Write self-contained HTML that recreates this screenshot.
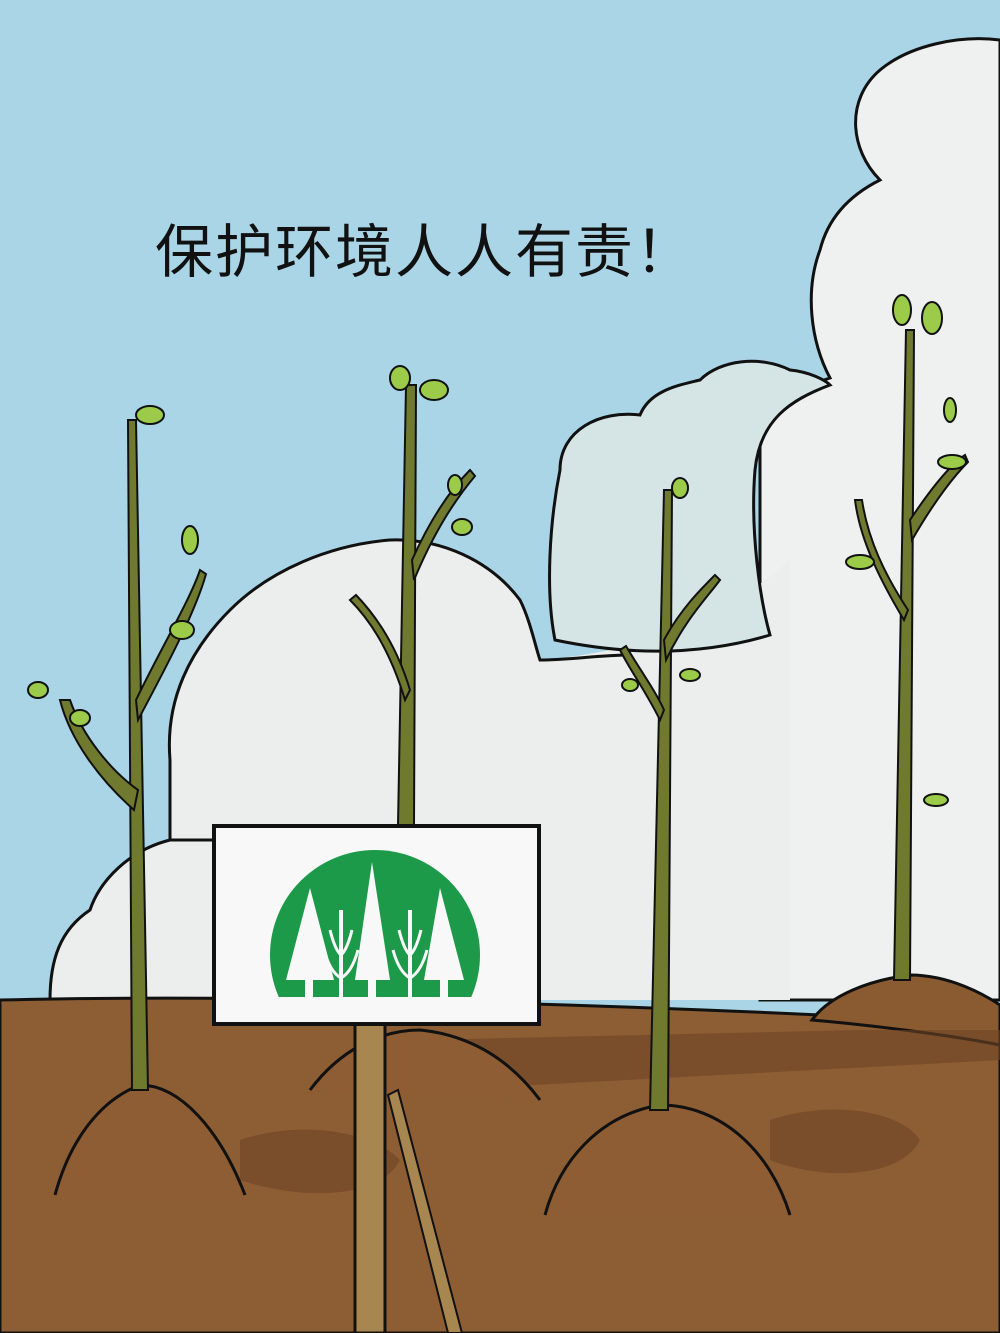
<!DOCTYPE html>
<html><head><meta charset="utf-8"><style>
html,body{margin:0;padding:0;width:1000px;height:1333px;overflow:hidden}
svg{display:block}
</style></head><body>
<svg width="1000" height="1333" viewBox="0 0 1000 1333">
<rect x="0" y="0" width="1000" height="1333" fill="#a9d5e6"/>
<path d="M760,1000 L760,400 C790,390 810,385 830,378 C810,340 805,290 820,250 C830,210 860,190 880,180 C850,150 845,100 880,70 C910,45 960,35 1000,40 L1000,1000 Z" fill="#eef1f0" stroke="#111" stroke-width="3"/>
<path d="M170,1000 L170,760 C165,700 190,650 230,610 C270,570 330,545 390,540 C440,538 490,560 520,600 C530,620 535,645 540,660 C600,655 700,640 790,560 L790,1000 Z" fill="#eceeed"/>
<path d="M555,640 C545,590 550,520 560,470 C560,430 600,410 640,415 C650,390 680,385 700,380 C720,360 760,355 790,370 C810,372 825,380 830,385 C790,400 760,420 755,470 C750,530 760,600 770,635 C720,650 650,660 555,640 Z" fill="#d5e4e5" stroke="#111" stroke-width="3"/>
<path d="M170,1000 L170,760 C165,700 190,650 230,610 C270,570 330,545 390,540 C440,538 490,560 520,600 C530,620 535,645 540,660 C570,660 600,655 630,655" fill="none" stroke="#111" stroke-width="3"/>
<path d="M50,1000 C50,960 60,930 90,910 C100,880 130,850 170,840 L220,840 L220,1000 Z" fill="#eceeed" stroke="#111" stroke-width="3"/>
<path d="M0,1000 C200,995 500,1000 820,1015 C900,1020 960,1035 1000,1040 L1000,1333 L0,1333 Z" fill="#8d5d33" stroke="#111" stroke-width="3"/>
<path d="M812,1020 C830,995 870,980 910,975 C950,975 985,995 1000,1005 L1000,1045 C950,1035 870,1025 812,1020 Z" fill="#8a5a30" stroke="#111" stroke-width="3"/>
<g fill="#6e4526" opacity="0.6">
<path d="M420,1040 L860,1030 L1000,1030 L1000,1060 L440,1090 Z"/>
<path d="M240,1140 C300,1120 370,1130 400,1160 C380,1200 300,1200 240,1180 Z"/>
<path d="M770,1120 C830,1100 900,1110 920,1140 C900,1180 820,1180 770,1160 Z"/>
</g>
<path d="M55,1195 C70,1140 100,1100 140,1085 C180,1085 220,1130 245,1195" fill="#8e5d33" stroke="#111" stroke-width="3"/>
<path d="M310,1090 C340,1050 380,1030 420,1030 C470,1035 510,1060 540,1100" fill="#8e5d33" stroke="#111" stroke-width="3"/>
<path d="M545,1215 C560,1160 600,1115 660,1105 C720,1105 770,1150 790,1215" fill="#8e5d33" stroke="#111" stroke-width="3"/>
<g stroke="#111" stroke-width="2" fill="#6f7a2f">
<path d="M128,420 L136,420 L148,1090 L132,1090 Z"/>
<path d="M134,810 C100,780 70,740 60,700 L70,700 C82,735 110,770 138,790 Z"/>
<path d="M136,700 C160,650 190,600 200,570 L206,574 C196,610 170,660 138,720 Z"/>
<path d="M406,385 L416,385 L414,825 L398,825 Z"/>
<path d="M405,700 C390,650 370,620 350,600 L356,595 C380,620 398,650 410,690 Z"/>
<path d="M412,560 C430,520 450,490 470,470 L475,476 C455,500 435,530 414,580 Z"/>
<path d="M664,490 L672,490 L668,1110 L650,1110 Z"/>
<path d="M660,720 C645,690 630,670 620,650 L626,646 C640,670 655,690 664,710 Z"/>
<path d="M664,640 C680,610 700,590 715,575 L720,580 C705,600 685,620 666,660 Z"/>
<path d="M906,330 L914,330 L910,980 L894,980 Z"/>
<path d="M904,620 C880,580 860,540 855,500 L862,500 C868,540 885,575 908,610 Z"/>
<path d="M910,520 C930,490 950,465 965,455 L968,462 C955,475 935,500 912,540 Z"/>
</g>
<g fill="#9ccb4a" stroke="#111" stroke-width="2">
<ellipse cx="150" cy="415" rx="14" ry="9"/><ellipse cx="190" cy="540" rx="8" ry="14"/><ellipse cx="182" cy="630" rx="12" ry="9"/><ellipse cx="38" cy="690" rx="10" ry="8"/><ellipse cx="80" cy="718" rx="10" ry="8"/>
<ellipse cx="400" cy="378" rx="10" ry="12"/><ellipse cx="434" cy="390" rx="14" ry="10"/><ellipse cx="462" cy="527" rx="10" ry="8"/><ellipse cx="455" cy="485" rx="7" ry="10"/>
<ellipse cx="680" cy="488" rx="8" ry="10"/><ellipse cx="690" cy="675" rx="10" ry="6"/><ellipse cx="630" cy="685" rx="8" ry="6"/>
<ellipse cx="902" cy="310" rx="9" ry="15"/><ellipse cx="932" cy="318" rx="10" ry="16"/><ellipse cx="952" cy="462" rx="14" ry="7"/><ellipse cx="860" cy="562" rx="14" ry="7"/><ellipse cx="950" cy="410" rx="6" ry="12"/><ellipse cx="936" cy="800" rx="12" ry="6"/>
</g>
<path d="M388,1095 L398,1090 L462,1333 L448,1333 Z" fill="#a88650" stroke="#111" stroke-width="2"/>
<rect x="355" y="1022" width="30" height="311" fill="#a88650" stroke="#111" stroke-width="3"/>
<g>
<rect x="214" y="826" width="325" height="198" fill="#f8f8f8" stroke="#111" stroke-width="4"/>
<clipPath id="lc"><rect x="260" y="840" width="240" height="157"/></clipPath>
<g clip-path="url(#lc)">
<circle cx="375" cy="955" r="105" fill="#1c9a4a"/>
<g fill="#f8f8f8">
<polygon points="310,888 286,980 334,980"/>
<polygon points="372,862 355,980 390,980"/>
<polygon points="440,888 424,980 464,980"/>
<rect x="305" y="978" width="8" height="20"/><rect x="368" y="978" width="8" height="20"/><rect x="440" y="978" width="8" height="20"/>
<rect x="339" y="910" width="4" height="90"/><rect x="408" y="910" width="4" height="90"/>
</g>
<g stroke="#f8f8f8" stroke-width="3" fill="none">
<path d="M330,930 Q335,950 341,955 Q347,950 352,930"/><path d="M324,950 Q330,972 341,978 Q352,972 358,950"/>
<path d="M399,930 Q404,950 410,955 Q416,950 421,930"/><path d="M393,950 Q399,972 410,978 Q421,972 427,950"/>
</g>
</g>
</g>
<text x="155" y="272" font-family="'Liberation Sans','Noto Sans CJK SC',sans-serif" font-size="58" fill="#111" letter-spacing="2">保护环境人人有责！</text>
</svg>
</body></html>
